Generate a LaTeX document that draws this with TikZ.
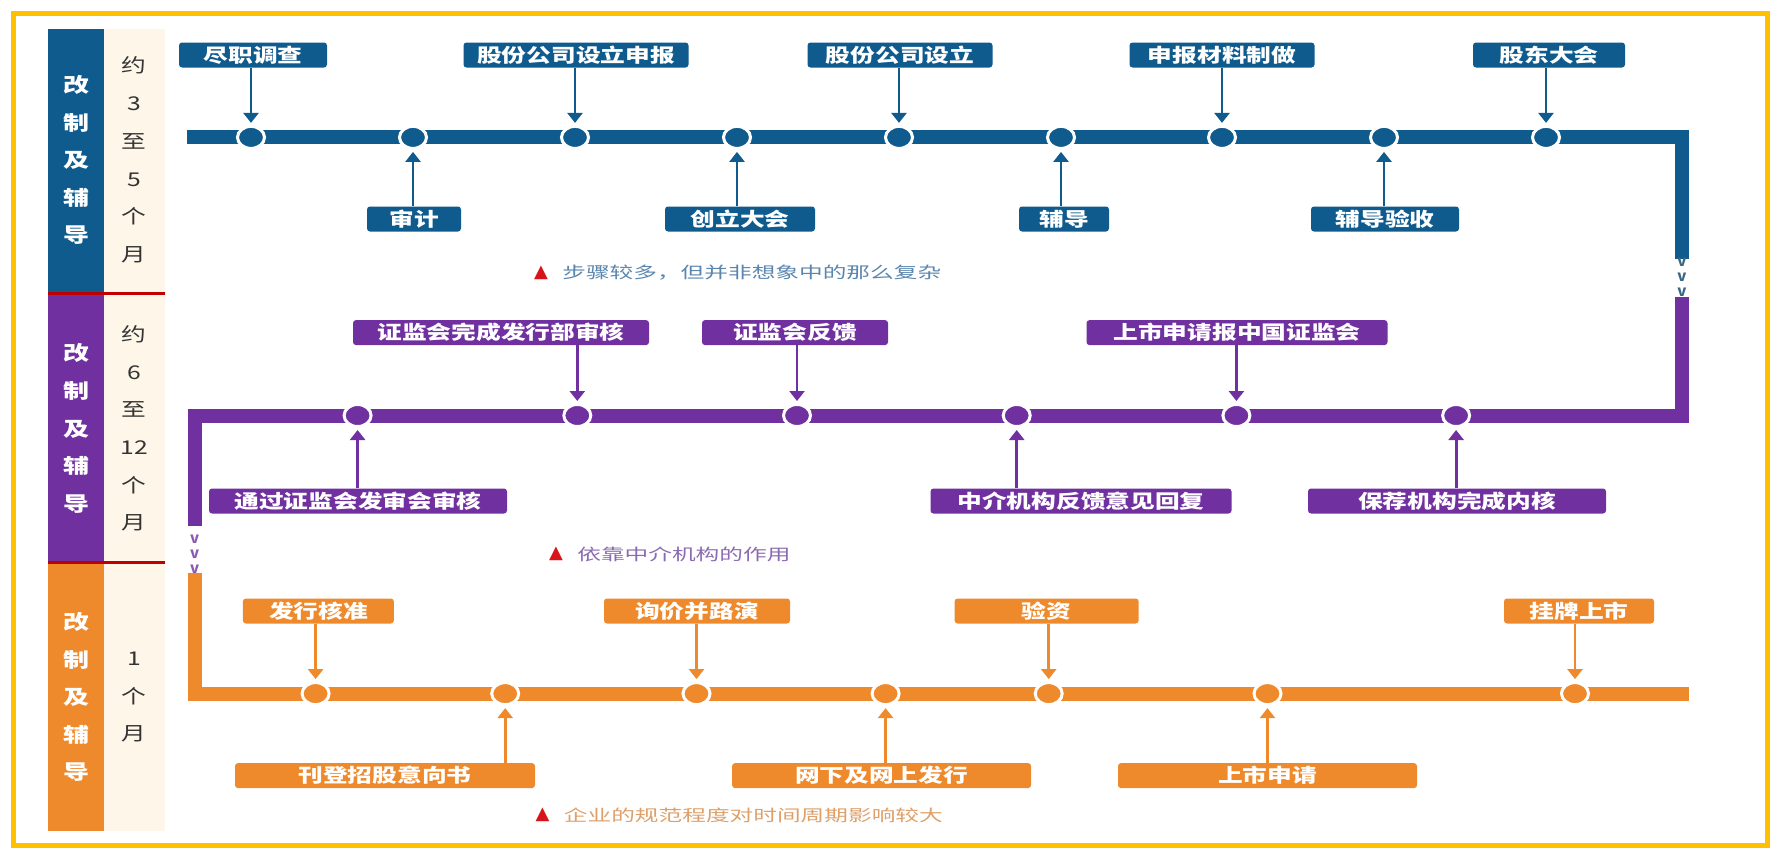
\documentclass[tikz,border=0pt]{standalone}
\usepackage{fontspec}
\usepackage{tikz}
\usetikzlibrary{shapes.geometric, arrows.meta, positioning}
\setmainfont{Noto Sans CJK SC}
\newfontfamily\tagfont{Noto Sans CJK SC}[FakeStretch=1.3]
\newfontfamily\notefont{Noto Sans CJK SC}[FakeStretch=1.48]
\newfontfamily\symfont{DejaVu Sans}
\definecolor{ipoblue}{HTML}{0F5B8E}
\definecolor{ipopurple}{HTML}{7030A0}
\definecolor{ipoorange}{HTML}{EE8A2C}
\definecolor{frameyellow}{HTML}{FFC000}
\definecolor{creambg}{HTML}{FDF6E9}
\definecolor{sepred}{HTML}{C00000}
\definecolor{markred}{HTML}{D7141A}
\definecolor{bluenote}{HTML}{5A86AE}
\definecolor{purplenote}{HTML}{8A6BB0}
\definecolor{orangenote}{HTML}{DDA06A}

\begin{document}
\begin{tikzpicture}[
  x=1pt, y=-1pt,
  tag/.style={
    rectangle, rounded corners=3pt,
    minimum width=#1pt, minimum height=25pt, inner sep=0pt,
    text=white, font=\tagfont\bfseries\fontsize{19}{19}\selectfont,
  },
  stop/.style={
    ellipse, minimum width=27pt, minimum height=22pt,
    inner sep=0pt, draw=white, line width=3pt,
  },
  track/.style={line width=14pt, line join=miter},
  pointer/.style={line width=2.8pt, -{Triangle[width=15pt,length=10pt]}, shorten >=2pt},
  bandtxt/.style={align=center, text=white, font=\tagfont\bfseries\fontsize{20}{37.6}\selectfont},
  monthtxt/.style={align=center, text=black!80, font=\tagfont\fontsize{19}{37.7}\selectfont},
  gapmark/.style={align=center, inner sep=0pt, font=\bfseries\fontsize{15}{15}\selectfont},
  warnmark/.style={text=markred, inner sep=0pt, font=\symfont\fontsize{18}{18}\selectfont},
  note/.style={inner sep=0pt, font=\notefont\fontsize{16}{16}\selectfont},
]
\useasboundingbox (0,0) rectangle (1780,862);

% outer frame
\draw[frameyellow, line width=5pt] (13.6,13.6) rectangle (1767.5,845.7);

% phase column
\fill[ipoblue]   (47.7,29)  rectangle (104.4,293);
\fill[ipopurple] (47.7,293) rectangle (104.4,562);
\fill[ipoorange] (47.7,562) rectangle (104.4,831);
\fill[creambg]   (104.4,29) rectangle (164.6,831);
\draw[sepred, line width=3pt] (47.7,293) -- (164.6,293);
\draw[sepred, line width=3pt] (47.7,562) -- (164.6,562);

\node[bandtxt]  (band1) at (76,160)    {改\\制\\及\\辅\\导};
\node[monthtxt] (mon1)  at (134,160)   {约\\3\\至\\5\\个\\月};
\node[bandtxt]  (band2) at (76,428.5)  {改\\制\\及\\辅\\导};
\node[monthtxt] (mon2)  at (134,428.5) {约\\6\\至\\12\\个\\月};
\node[bandtxt]  (band3) at (76,697)    {改\\制\\及\\辅\\导};
\node[monthtxt] (mon3)  at (134,697)   {1\\个\\月};

% track
\coordinate (bstart) at (187.3,137.4);
\coordinate (bturn)  at (1681.8,137.4);
\coordinate (bend)   at (1681.8,258.8);
\coordinate (pstart) at (1681.8,297.4);
\coordinate (pturn)  at (1681.8,415.5);
\coordinate (pleft)  at (194.7,415.5);
\coordinate (pend)   at (194.7,525.6);
\coordinate (ostart) at (194.7,573.3);
\coordinate (oturn)  at (194.7,693.6);
\coordinate (oend)   at (1689,693.6);

\draw[track, ipoblue]   (bstart) -- (bturn) -- (bend);
\draw[track, ipopurple] (pstart) -- (pturn) -- (pleft) -- (pend);
\draw[track, ipoorange] (ostart) -- (oturn) -- (oend);

\node[gapmark, text=ipoblue!70!black!80]  (gap1) at (1681.8,277) {v\\v\\v};
\node[gapmark, text=ipopurple!80] (gap2) at (194.7,554) {v\\v\\v};

% stops
\foreach \i/\xx in {1/251,2/413,3/575,4/737,5/899,6/1061,7/1222,8/1384,9/1546}
  \node[stop, fill=ipoblue] (b\i) at (\xx,137.4) {};
\foreach \i/\xx in {1/357.6,2/577.3,3/797,4/1016.7,5/1236.4,6/1456.1}
  \node[stop, fill=ipopurple] (p\i) at (\xx,415.5) {};
\foreach \i/\xx in {1/315.6,2/505.2,3/696.5,4/885.6,5/1048.7,6/1267.5,7/1575}
  \node[stop, fill=ipoorange] (o\i) at (\xx,693.6) {};

% phase 1
\node[tag=148, fill=ipoblue] (bt1) at (253,55)   {尽职调查};
\node[tag=225, fill=ipoblue] (bt2) at (576,55)   {股份公司设立申报};
\node[tag=185, fill=ipoblue] (bt3) at (900,55)   {股份公司设立};
\node[tag=185, fill=ipoblue] (bt4) at (1222,55)  {申报材料制做};
\node[tag=152, fill=ipoblue] (bt5) at (1549,55)  {股东大会};
\node[tag=94,  fill=ipoblue] (bb1) at (414,219)  {审计};
\node[tag=150, fill=ipoblue] (bb2) at (740,219)  {创立大会};
\node[tag=90,  fill=ipoblue] (bb3) at (1064,219) {辅导};
\node[tag=148, fill=ipoblue] (bb4) at (1385,219) {辅导验收};

\draw[pointer, ipoblue] (bt1.south -| b1) -- (b1.north);
\draw[pointer, ipoblue] (bt2.south -| b3) -- (b3.north);
\draw[pointer, ipoblue] (bt3.south -| b5) -- (b5.north);
\draw[pointer, ipoblue] (bt4.south -| b7) -- (b7.north);
\draw[pointer, ipoblue] (bt5.south -| b9) -- (b9.north);
\draw[pointer, ipoblue] (bb1.north -| b2) -- (b2.south);
\draw[pointer, ipoblue] (bb2.north -| b4) -- (b4.south);
\draw[pointer, ipoblue] (bb3.north -| b6) -- (b6.south);
\draw[pointer, ipoblue] (bb4.north -| b8) -- (b8.south);

\node[warnmark] (m1) at (541,272.4) {▲};
\node[note, text=bluenote, right=14pt of m1] (n1) {步骤较多，但并非想象中的那么复杂};

% phase 2
\node[tag=296, fill=ipopurple] (pt1) at (501,332.6)  {证监会完成发行部审核};
\node[tag=186, fill=ipopurple] (pt2) at (795,332.6)  {证监会反馈};
\node[tag=301, fill=ipopurple] (pt3) at (1237,332.6) {上市申请报中国证监会};
\node[tag=298, fill=ipopurple] (pb1) at (358,501)    {通过证监会发审会审核};
\node[tag=301, fill=ipopurple] (pb2) at (1081,501)   {中介机构反馈意见回复};
\node[tag=298, fill=ipopurple] (pb3) at (1457,501)   {保荐机构完成内核};

\draw[pointer, ipopurple] (pt1.south -| p2) -- (p2.north);
\draw[pointer, ipopurple] (pt2.south -| p3) -- (p3.north);
\draw[pointer, ipopurple] (pt3.south -| p5) -- (p5.north);
\draw[pointer, ipopurple] (pb1.north -| p1) -- (p1.south);
\draw[pointer, ipopurple] (pb2.north -| p4) -- (p4.south);
\draw[pointer, ipopurple] (pb3.north -| p6) -- (p6.south);

\node[warnmark] (m2) at (556,554) {▲};
\node[note, text=purplenote, right=14pt of m2] (n2) {依靠中介机构的作用};

% phase 3
\node[tag=151, fill=ipoorange] (ot1) at (318.4,611)   {发行核准};
\node[tag=186, fill=ipoorange] (ot2) at (697,611)     {询价并路演};
\node[tag=184, fill=ipoorange] (ot3) at (1046.6,611)  {验资};
\node[tag=150, fill=ipoorange] (ot4) at (1579,611)    {挂牌上市};
\node[tag=300, fill=ipoorange] (ob1) at (385,775.6)   {刊登招股意向书};
\node[tag=299, fill=ipoorange] (ob2) at (881.6,775.6) {网下及网上发行};
\node[tag=299, fill=ipoorange] (ob3) at (1267.5,775.6){上市申请};

\draw[pointer, ipoorange] (ot1.south -| o1) -- (o1.north);
\draw[pointer, ipoorange] (ot2.south -| o3) -- (o3.north);
\draw[pointer, ipoorange] (ot3.south -| o5) -- (o5.north);
\draw[pointer, ipoorange] (ot4.south -| o7) -- (o7.north);
\draw[pointer, ipoorange] (ob1.north -| o2) -- (o2.south);
\draw[pointer, ipoorange] (ob2.north -| o4) -- (o4.south);
\draw[pointer, ipoorange] (ob3.north -| o6) -- (o6.south);

\node[warnmark] (m3) at (542.6,815) {▲};
\node[note, text=orangenote, right=14pt of m3] (n3) {企业的规范程度对时间周期影响较大};

\end{tikzpicture}
\end{document}
